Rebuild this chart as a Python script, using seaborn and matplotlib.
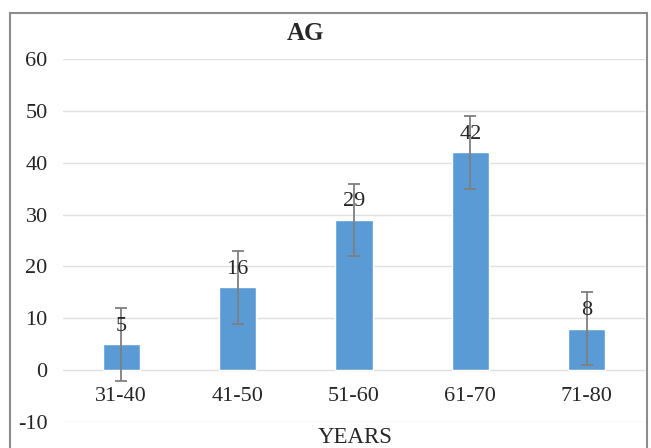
import matplotlib
matplotlib.use("Agg")
import matplotlib.pyplot as plt
import seaborn as sns
import pandas as pd
from matplotlib.patches import Rectangle

# data
age_groups = ["31-40", "41-50", "51-60", "61-70", "71-80"]
counts = [5, 16, 29, 42, 8]
errors = [7, 7, 7, 7, 7]

df = pd.DataFrame({"Age": age_groups, "Count": counts})

sns.set_style("white")
plt.rcParams["font.family"] = ["Liberation Serif", "DejaVu Serif"]
plt.rcParams["axes.unicode_minus"] = False

fig = plt.figure(figsize=(6.51, 4.48), dpi=100)
ax = fig.add_axes([0.0968, 0.058, 0.894, 0.810])

sns.barplot(data=df, x="Age", y="Count", color="#5B9BD5", width=0.32,
            saturation=1, errorbar=None, ax=ax, zorder=3)
ax.errorbar(range(len(counts)), counts, yerr=errors, fmt="none",
            ecolor="#7F7F7F", elinewidth=1.3, capsize=4, capthick=1.3, zorder=4)

# value labels
for i, v in enumerate(counts):
    ax.text(i, v + 2.6, str(v), ha="center", va="baseline", fontsize=16, zorder=5)

# x labels sit just under the zero line
for i, lab in enumerate(age_groups):
    ax.text(i, -5, lab, ha="center", va="center", fontsize=16)

ax.set_ylim(-10, 60)
ax.set_yticks(range(-10, 61, 10))
ax.set_xlim(-0.5, len(age_groups) - 0.5)
ax.set_xticks([])
ax.set_xlabel("")
ax.set_ylabel("")
ax.tick_params(axis="y", labelsize=16, length=0, pad=11)
ax.yaxis.grid(True, color="#E0E0E0", linewidth=1.0, zorder=0)
ax.set_axisbelow(True)
for s in ax.spines.values():
    s.set_visible(False)

fig.text(305 / 651, 1 - 33 / 448, "AG", ha="center", va="center",
         fontsize=18, fontweight="bold")
fig.text(355 / 651, 1 - 437 / 448, "YEARS", ha="center", va="center", fontsize=16.5)

# outer frame of the chart
fig.patches.append(Rectangle((10 / 651, -0.1), 637 / 651, 0.1 + 435 / 448,
                             transform=fig.transFigure, fill=False,
                             edgecolor="#8C8C8C", linewidth=1.5))

fig.savefig("out.png", dpi=100)
